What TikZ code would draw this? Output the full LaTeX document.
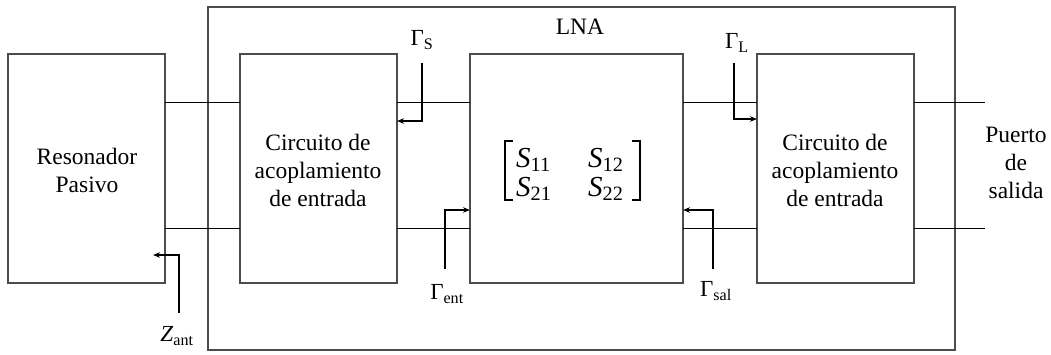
\documentclass[tikz,border=0pt]{standalone}
\usepackage{fontspec}
\setmainfont{Liberation Serif}
\usetikzlibrary{arrows.meta}
\begin{document}
\begin{tikzpicture}[x=1pt,y=-1pt,
  blk/.style={draw=black!70,line width=1.1pt},
  wire/.style={draw=black,line width=0.8pt},
  brk/.style={draw=black,line width=1.3pt},
  refl/.style={draw=black,line width=1.4pt,-{Stealth[length=7pt,width=5.5pt]}},
  txt/.style={font=\fontsize{23.5}{28}\selectfont,align=center},
  lbl/.style={font=\fontsize{23}{26}\selectfont,inner sep=0pt},
  ent/.style={font=\fontsize{29}{30}\selectfont,inner sep=0pt,anchor=base west}]
\useasboundingbox (0,0) rectangle (1051,354);
% boxes
\draw[blk] (208,7) rectangle (955,350);
\node[txt] at (580,27) (lna) {LNA};
\draw[blk] (8,54) rectangle (165,283);
\draw[blk] (240,54) rectangle (397,283);
\draw[blk] (470,54) rectangle (683,283);
\draw[blk] (757,54) rectangle (914,283);
\node[txt] (res) at (87,170) {Resonador\\Pasivo};
\node[txt] (c1) at (318,170) {Circuito de\\acoplamiento\\de entrada};
\node[txt] (c2) at (835,170) {Circuito de\\acoplamiento\\de entrada};
\node[txt] (out) at (1016,163) {Puerto\\de\\salida};
% matrix
\draw[brk] (513,141) -- (505,141) -- (505,200) -- (513,200);
\draw[brk] (632,141) -- (640,141) -- (640,200) -- (632,200);
\node[ent] (s11) at (516,167) {\textit{S}\textsubscript{11}};
\node[ent] (s12) at (588,167) {\textit{S}\textsubscript{12}};
\node[ent] (s21) at (516,196) {\textit{S}\textsubscript{21}};
\node[ent] (s22) at (588,196) {\textit{S}\textsubscript{22}};
% wires
\foreach \y in {102,228}{
  \draw[wire] (165,\y) -- (240,\y);
  \draw[wire] (397,\y) -- (470,\y);
  \draw[wire] (683,\y) -- (757,\y);
  \draw[wire] (914,\y) -- (985,\y);
}
% reflection arrows
\coordinate (gs0) at (422,63);
\draw[refl] (gs0) |- (397,121);
\node[lbl] (gs) at (422,40) {Γ\textsubscript{S}};
\coordinate (gl0) at (734,63);
\draw[refl] (gl0) |- (757,119);
\node[lbl] (gl) at (737,43) {Γ\textsubscript{L}};
\coordinate (ge0) at (445,269);
\draw[refl] (ge0) |- (470,210);
\node[lbl] (ge) at (447,294) {Γ\textsubscript{ent}};
\coordinate (gsa0) at (713,269);
\draw[refl] (gsa0) |- (683,210);
\node[lbl] (gsa) at (716,291) {Γ\textsubscript{sal}};
\coordinate (z0) at (179,313);
\draw[refl] (z0) |- (153,255);
\node[lbl] (z) at (177,336) {\textit{Z}\textsubscript{ant}};
\end{tikzpicture}
\end{document}
